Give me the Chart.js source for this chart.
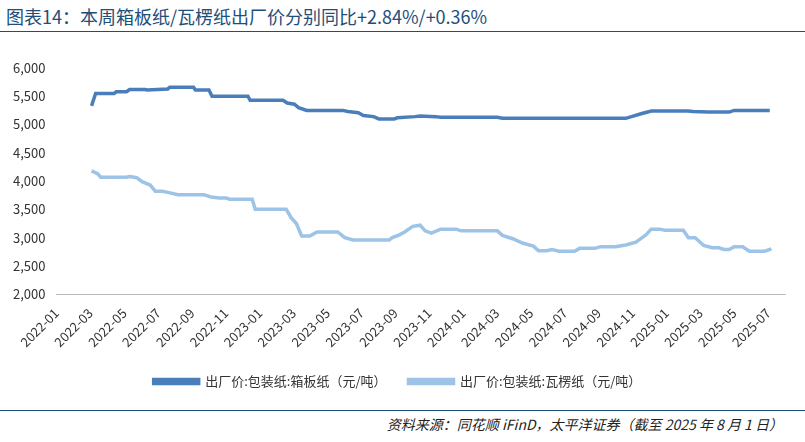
<!DOCTYPE html>
<html><head><meta charset="utf-8">
<script src="https://cdn.jsdelivr.net/npm/chart.js@4"></script>
<style>
body{margin:0;width:805px;height:442px;background:#fff;font-family:"Noto Sans CJK SC",sans-serif;position:relative;overflow:hidden}
#title{position:absolute;left:6px;top:3px;font-size:18px;color:#1F4E79;}
#topline{position:absolute;left:0;right:0;top:31px;border-top:1px solid #1F4E79}
#botline{position:absolute;left:0;right:0;top:410px;border-top:1px solid #1F4E79}
#src{position:absolute;right:22px;top:414px;font-size:14px;font-style:italic;color:#222}
#wrap{position:absolute;left:0;top:50px;width:805px;height:348px}
</style></head><body>
<div id="title">图表14：本周箱板纸/瓦楞纸出厂价分别同比+2.84%/+0.36%</div>
<div id="topline"></div>
<div id="wrap"><canvas id="c"></canvas></div>
<div id="botline"></div>
<div id="src">资料来源：同花顺 iFinD，太平洋证券（截至 2025 年 8 月 1 日）</div>
<script>
// x = months since 2022-01
const boxMonths = [2.07,2.31,3.4,3.53,4.13,4.32,5.23,5.35,6.57,6.69,8.09,8.2,9.0,9.18,11.3,11.43,13.37,13.62,14.04,14.29,14.77,16.9,17.2,17.81,18.12,18.72,19.03,19.94,20.12,21.16,21.46,22.37,22.67,26.02,26.32,33.6,34.04,34.5,35.0,35.1,37.26,37.57,38.48,39.7,40.0,42.1];
const boxPrice = [5330,5550,5550,5580,5580,5620,5620,5610,5630,5660,5660,5610,5610,5500,5500,5430,5430,5380,5360,5300,5250,5250,5230,5210,5160,5140,5100,5100,5120,5140,5150,5140,5130,5130,5110,5110,5150,5190,5230,5240,5240,5230,5220,5220,5250,5250];
const corrMonths = [2.07,2.43,2.61,4.13,4.32,4.74,5.05,5.53,5.84,6.26,6.57,7.17,8.69,9.12,9.6,10.03,10.21,11.55,11.73,13.56,13.86,14.16,14.47,14.95,15.38,16.6,17.02,17.51,19.64,19.82,20.24,20.55,21.03,21.46,21.76,22.13,22.67,23.59,23.89,26.02,26.32,26.93,27.54,28.15,28.45,28.94,29.24,29.67,30.58,30.88,31.79,32.1,33.0,33.6,34.2,34.8,35.1,35.6,35.9,37.0,37.3,37.7,38.2,38.7,39.1,39.4,39.7,40.0,40.5,40.9,41.8,42.2];
const corrPrice = [4180,4130,4070,4070,4080,4060,3990,3930,3820,3820,3800,3760,3760,3720,3700,3700,3680,3680,3500,3500,3350,3250,3030,3030,3100,3100,3000,2960,2960,3000,3050,3100,3200,3220,3120,3080,3150,3150,3120,3120,3040,2980,2900,2850,2770,2770,2790,2760,2760,2810,2810,2840,2840,2870,2920,3050,3150,3150,3130,3130,3000,3000,2860,2820,2820,2790,2790,2840,2840,2760,2760,2800];
const yTicks = [2000,2500,3000,3500,4000,4500,5000,5500,6000];

const pts = (xs, ys) => xs.map((x, i) => ({x, y: ys[i]}));
const f = {family: '"Noto Sans CJK SC", sans-serif', size: 13};

new Chart(document.getElementById('c'), {
    type: 'line',
    data: {datasets: [
        {label: '出厂价:包装纸:箱板纸（元/吨）', data: pts(boxMonths, boxPrice), borderColor: '#4A7EBB', backgroundColor: '#4A7EBB', borderWidth: 3.5, pointRadius: 0, tension: 0},
        {label: '出厂价:包装纸:瓦楞纸（元/吨）', data: pts(corrMonths, corrPrice), borderColor: '#9DC3E6', backgroundColor: '#9DC3E6', borderWidth: 3.5, pointRadius: 0, tension: 0}
    ]},
    options: {
        animation: false, responsive: true, maintainAspectRatio: false,
        layout: {padding: {left: 10, right: 20, top: 18}},
        plugins: {legend: {position: 'bottom', labels: {font: f, color: '#333', boxWidth: 45, boxHeight: 4, padding: 22}}},
        scales: {
            x: {type: 'linear', min: 0, max: 43, grid: {display: false, drawTicks: true}, border: {color: '#bbb'},
                afterBuildTicks: a => { a.ticks = []; for (let v = 0; v <= 42; v += 2) a.ticks.push({value: v}); },
                ticks: {minRotation: 45, maxRotation: 45, color: '#333', font: f,
                    callback: v => (2022 + Math.floor(v / 12)) + '-' + String(v % 12 + 1).padStart(2, '0')}},
            y: {min: 2000, max: 6000, grid: {display: false}, border: {display: false},
                afterBuildTicks: a => { a.ticks = yTicks.map(v => ({value: v})); },
                ticks: {color: '#333', font: f, callback: v => v.toLocaleString('en-US')}}
        }
    }
});
</script>
</body></html>
